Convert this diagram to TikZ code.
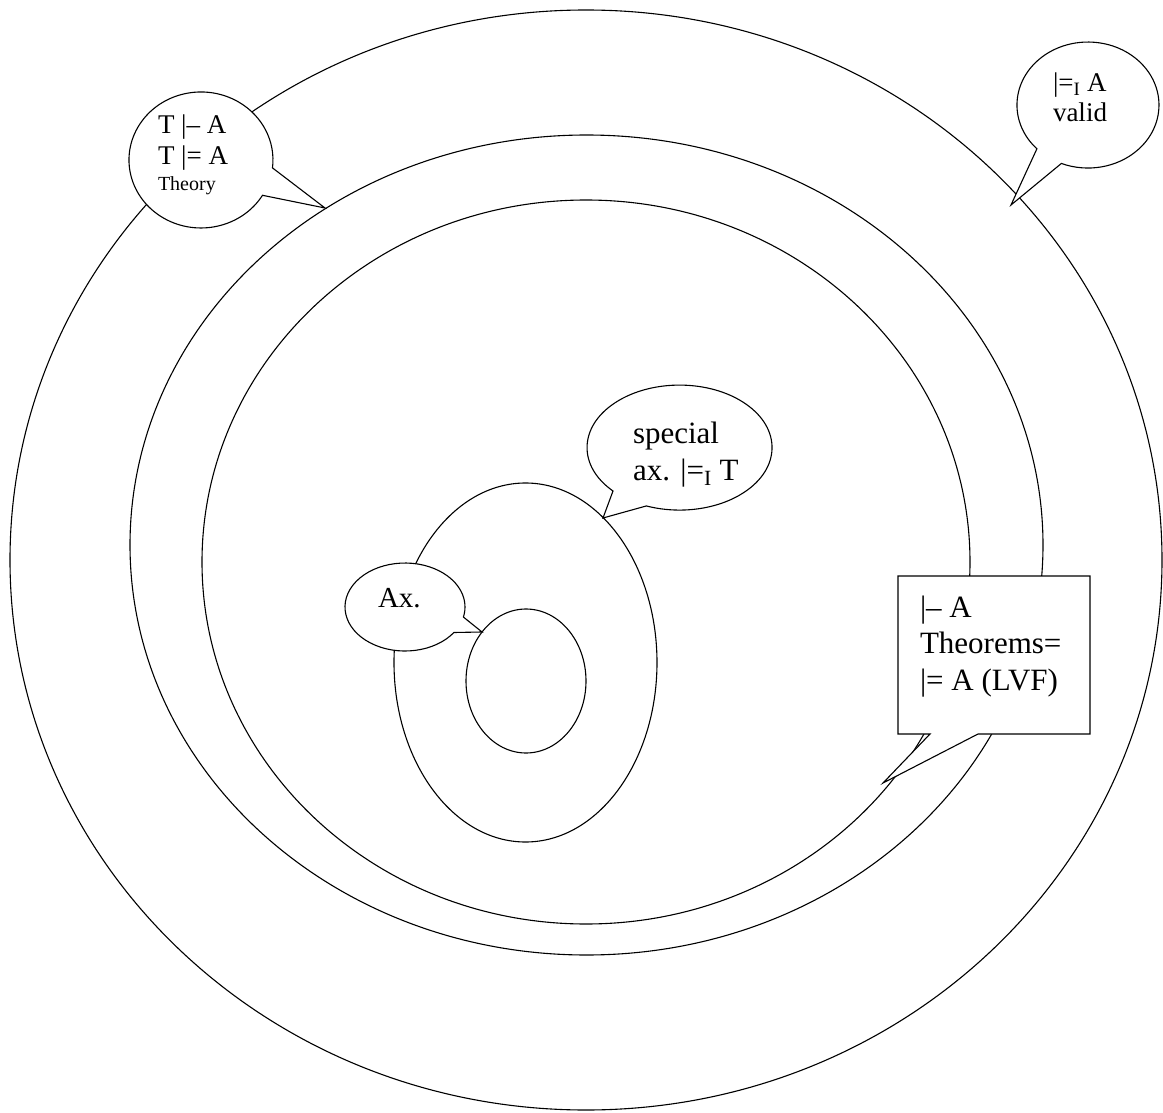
\documentclass[tikz,border=0pt]{standalone}
\usepackage{fontspec}
\setmainfont{Liberation Serif}
\usetikzlibrary{shapes.geometric}

\tikzset{
  line/.style={line width=1.1pt, black},
  ring/.style={line, draw, ellipse, inner sep=0pt, outer sep=0pt},
  bubble/.style={line, draw, fill=white, line join=miter},
  txt/.style={anchor=base west, inner sep=0pt, outer sep=0pt},
  big/.style={txt, font=\fontsize{31}{31}\selectfont},
  mid/.style={txt, font=\fontsize{27}{27}\selectfont},
  tiny/.style={txt, font=\fontsize{20}{20}\selectfont}
}

\begin{document}
\begin{tikzpicture}[x=1pt, y=-1pt]
\useasboundingbox (0,0) rectangle (1163,1113);

% nested sets
\node[ring, minimum width=1152pt, minimum height=1100pt] (valid) at (586,560) {};
\node[ring, minimum width=913pt, minimum height=820pt] (theory) at (586.5,545) {};
\node[ring, minimum width=768pt, minimum height=724pt] (thm) at (586,562) {};
\node[ring, minimum width=263pt, minimum height=359pt] (special) at (525.5,662.5) {};
\node[ring, minimum width=120pt, minimum height=144pt] (axioms) at (526,681) {};

% callout tips
\coordinate (tipTheory) at (325,208);
\coordinate (tipValid) at (1011,205);
\coordinate (tipSpecial) at (603,518);
\coordinate (tipAx) at (482,632);
\coordinate (tipThm) at (883,783);

% speech bubbles
\path[bubble] (262.5,195.3) arc[start angle=31.3, end angle=366.7, x radius=72, y radius=68]
  -- (tipTheory) -- cycle;
\path[bubble] (1036.9,148.8) arc[start angle=136, end angle=472, x radius=71, y radius=63]
  -- (tipValid) -- cycle;
\path[bubble] (613,491) arc[start angle=136, end angle=471, x radius=92.5, y radius=62.5]
  -- (tipSpecial) -- cycle;
\path[bubble] (453.9,632.5) arc[start angle=35.4, end angle=373.2, x radius=60, y radius=44]
  -- (tipAx) -- cycle;
\path[bubble] (930,734) -- (898,734) -- (898,576) -- (1090,576) -- (1090,734)
  -- (978,734) -- (tipThm) -- cycle;

% labels
\node[mid] (t1) at (158,134) {T |– A};
\node[mid] (t2) at (158,165) {T |= A};
\node[tiny] (t3) at (158,190) {Theory};

\node[mid] (v1) at (1053,92) {|=\textsubscript{I} A};
\node[mid] (v2) at (1053,122) {valid};

\node[big] (s1) at (633,443) {special};
\node[big] (s2) at (633,480) {ax. |=\textsubscript{I} T};

\node[txt, font=\fontsize{29}{29}\selectfont] (a1) at (378,607) {Ax.};

\node[big] (h1) at (920,617) {|– A};
\node[big] (h2) at (920,653) {Theorems=};
\node[big] (h3) at (920,690) {|= A (LVF)};
\end{tikzpicture}
\end{document}
